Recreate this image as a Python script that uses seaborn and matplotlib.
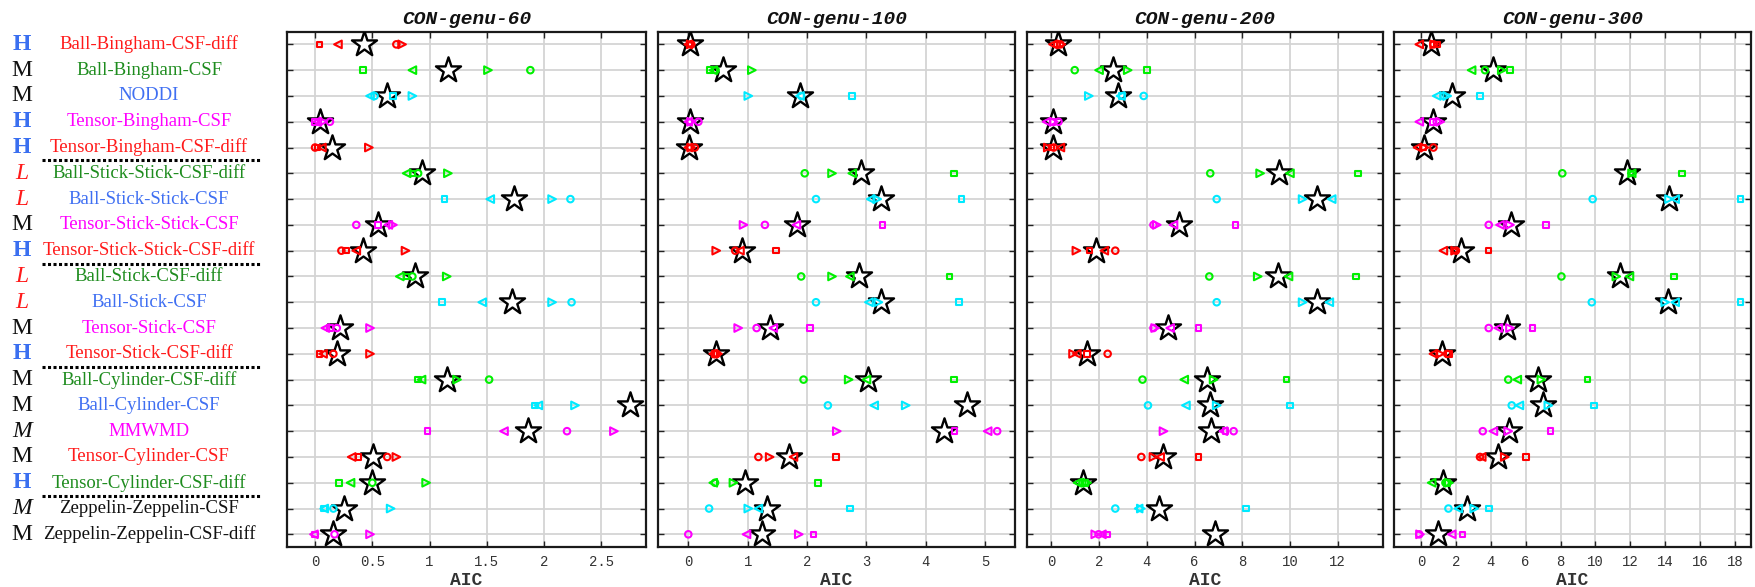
import numpy as np
import pandas as pd
import matplotlib
matplotlib.use("Agg")
import matplotlib.pyplot as plt
import matplotlib.transforms as mtransforms
import matplotlib.lines as mlines
import seaborn as sns

# ---------------- data ----------------
models = ["Ball-Bingham-CSF-diff", "Ball-Bingham-CSF", "NODDI", "Tensor-Bingham-CSF",
          "Tensor-Bingham-CSF-diff", "Ball-Stick-Stick-CSF-diff", "Ball-Stick-Stick-CSF",
          "Tensor-Stick-Stick-CSF", "Tensor-Stick-Stick-CSF-diff", "Ball-Stick-CSF-diff",
          "Ball-Stick-CSF", "Tensor-Stick-CSF", "Tensor-Stick-CSF-diff", "Ball-Cylinder-CSF-diff",
          "Ball-Cylinder-CSF", "MMWMD", "Tensor-Cylinder-CSF", "Tensor-Cylinder-CSF-diff",
          "Zeppelin-Zeppelin-CSF", "Zeppelin-Zeppelin-CSF-diff"]
ratings = ["H", "M", "M", "H", "H", "L", "L", "M", "H", "L",
           "L", "M", "H", "M", "M", "M", "M", "H", "M", "M"]
rating_italic_rows = [15, 18]
label_colors = ["red", "green", "blue", "magenta", "red", "green", "blue", "magenta", "red", "green",
                "blue", "magenta", "red", "green", "blue", "magenta", "red", "green", "black", "black"]
marker_colors = ["red", "green", "cyan", "magenta", "red", "green", "cyan", "magenta", "red", "green",
                 "cyan", "magenta", "red", "green", "cyan", "magenta", "red", "green", "cyan", "magenta"]
separators_after = [4, 8, 12, 17]

panels = ["CON-genu-60", "CON-genu-100", "CON-genu-200", "CON-genu-300"]

# AIC values: square, left triangle, circle, right triangle, star
sq_60 = [0.04, 0.42, 0.68, 0.00, 0.02, 0.85, 1.13, 0.55, 0.27, 0.80,
         1.11, 0.13, 0.04, 0.90, 1.92, 0.98, 0.38, 0.21, 0.08, 0.00]
lt_60 = [0.20, 0.85, 0.48, 0.02, 0.06, 0.80, 1.53, 0.64, 0.36, 0.74,
         1.46, 0.09, 0.07, 0.93, 1.95, 1.65, 0.32, 0.31, 0.08, -0.01]
ci_60 = [0.71, 1.88, 0.52, 0.13, 0.00, 0.90, 2.23, 0.36, 0.23, 0.85,
         2.24, 0.19, 0.16, 1.52, 4.86, 2.20, 0.63, 0.50, 0.16, 0.17]
rt_60 = [0.76, 1.51, 0.85, 0.07, 0.47, 1.16, 2.07, 0.68, 0.79, 1.15,
         2.07, 0.48, 0.48, 1.24, 2.27, 2.61, 0.71, 0.97, 0.66, 0.48]
st_60 = [0.43, 1.16, 0.63, 0.04, 0.15, 0.93, 1.74, 0.55, 0.42, 0.87,
         1.72, 0.22, 0.19, 1.15, 2.75, 1.86, 0.51, 0.50, 0.25, 0.16]

sq_100 = [0.02, 0.37, 2.76, 0.02, 0.02, 4.47, 4.60, 3.27, 1.48, 4.40,
          4.56, 2.05, 0.45, 4.47, 9.62, 4.48, 2.49, 2.18, 2.72, 2.11]
lt_100 = [0.00, 0.42, 1.88, 0.00, 0.00, 2.76, 3.07, 1.82, 0.87, 2.72,
          3.04, 1.43, 0.42, 3.00, 3.13, 5.04, 1.77, 0.42, 1.18, 0.98]
ci_100 = [0.05, 0.46, 1.90, 0.17, 0.11, 1.96, 2.15, 1.29, 0.79, 1.90,
          2.15, 1.15, 0.48, 1.94, 2.35, 5.20, 1.18, 0.45, 0.35, 0.00]
rt_100 = [0.04, 1.07, 1.01, 0.05, 0.05, 2.42, 3.18, 0.93, 0.47, 2.42,
          3.20, 0.84, 0.50, 2.70, 3.66, 2.50, 1.37, 0.76, 1.01, 1.86]
st_100 = [0.03, 0.58, 1.88, 0.03, 0.02, 2.90, 3.25, 1.83, 0.90, 2.87,
          3.25, 1.37, 0.46, 3.02, 4.69, 4.31, 1.69, 0.96, 1.33, 1.24]

sq_200 = [0.24, 4.00, 2.95, 0.05, 0.00, 12.85, 15.40, 7.72, 1.60, 12.77,
          15.40, 6.17, 1.49, 9.86, 10.00, 7.30, 6.17, 1.40, 8.16, 2.33]
lt_200 = [0.07, 2.00, 2.90, -0.20, 0.38, 10.00, 11.75, 5.12, 2.22, 9.94,
          11.65, 4.98, 1.07, 5.57, 5.64, 7.21, 4.56, 1.10, 3.66, 2.12]
ci_200 = [0.38, 0.98, 3.87, 0.30, 0.10, 6.66, 6.93, 4.28, 2.68, 6.62,
          6.93, 4.28, 2.36, 3.82, 4.05, 7.64, 3.77, 1.30, 2.68, 1.98]
rt_200 = [0.42, 3.20, 1.57, 0.10, -0.15, 8.75, 10.53, 4.42, 1.05, 8.65,
          10.53, 4.35, 0.91, 6.80, 6.93, 4.70, 4.28, 1.50, 3.75, 1.84]
st_200 = [0.28, 2.58, 2.80, 0.05, 0.05, 9.56, 11.15, 5.37, 1.87, 9.52,
          11.15, 4.91, 1.49, 6.52, 6.66, 6.68, 4.66, 1.31, 4.53, 6.86]

sq_300 = [0.90, 5.10, 3.38, 0.70, 0.10, 14.95, 18.33, 7.15, 3.88, 14.50,
          18.33, 6.40, 1.60, 9.54, 9.92, 7.43, 6.02, 1.50, 3.90, 2.37]
lt_300 = [-0.10, 2.90, 0.90, -0.10, -0.20, 12.08, 14.57, 4.53, 1.28, 11.95,
          14.57, 4.43, 0.71, 5.52, 5.64, 4.15, 3.48, 0.61, 2.14, 1.76]
ci_300 = [0.71, 3.67, 1.28, 0.90, 0.71, 8.10, 9.84, 3.88, 2.00, 8.05,
          9.79, 3.88, 1.50, 5.00, 5.20, 3.54, 3.38, 1.40, 1.57, -0.10]
rt_300 = [0.75, 4.63, 1.50, 1.10, 0.20, 12.10, 14.22, 5.10, 1.95, 11.20,
          14.00, 5.10, 1.10, 6.90, 7.30, 5.00, 4.80, 1.60, 3.05, -0.06]
st_300 = [0.57, 4.11, 1.76, 0.66, 0.19, 11.80, 14.24, 5.16, 2.29, 11.41,
          14.18, 4.95, 1.22, 6.73, 7.02, 5.05, 4.43, 1.28, 2.66, 0.99]

ticks_60 = [0, 0.5, 1, 1.5, 2, 2.5]
ticks_100 = [0, 1, 2, 3, 4, 5]
ticks_200 = [0, 2, 4, 6, 8, 10, 12]
ticks_300 = [0, 2, 4, 6, 8, 10, 12, 14, 16, 18]
xlims = [(-0.245, 2.89), (-0.51, 5.50), (-1.02, 13.9), (-1.55, 18.92)]

# ---------------- style ----------------
sns.set_theme(style="white")
plt.rcParams["font.family"] = ["DejaVu Sans"]

label_palette = {"red": "#ff1a1a", "green": "#1e8c1e", "blue": "#3f6ff2",
                 "magenta": "#ff00ff", "black": "#111111"}
marker_palette = {"red": "#ff0000", "green": "#00f000", "cyan": "#00eaff", "magenta": "#ff00ff"}
rating_style = {"H": dict(color="#3a6ff0", fontweight="bold", fontstyle="normal"),
                "M": dict(color="#111111", fontweight="normal", fontstyle="normal"),
                "L": dict(color="#ff1a1a", fontweight="normal", fontstyle="italic")}

W, H = 1755, 587
fig = plt.figure(figsize=(W / 100, H / 100), dpi=100, facecolor="white")

panel_px = [(287, 646), (658, 1015), (1027, 1383), (1394, 1751)]
top_px, bot_px = 32, 546.7

all_data = [
    (sq_60, lt_60, ci_60, rt_60, st_60, ticks_60),
    (sq_100, lt_100, ci_100, rt_100, st_100, ticks_100),
    (sq_200, lt_200, ci_200, rt_200, st_200, ticks_200),
    (sq_300, lt_300, ci_300, rt_300, st_300, ticks_300),
]
marker_specs = [("s", 16), ("<", 30), ("o", 22), (">", 30)]

axes = []
rows = np.arange(len(models))
for p, (title, (sq, lt, ci, rt, st, ticks)) in enumerate(zip(panels, all_data)):
    l, r = panel_px[p]
    ax = fig.add_axes([l / W, (H - bot_px) / H, (r - l) / W, (bot_px - top_px) / H])
    axes.append(ax)
    ax.set_facecolor("white")

    # star (mean)
    dstar = pd.DataFrame({"aic": st, "row": rows})
    sns.scatterplot(data=dstar, x="aic", y="row", marker="*", s=360, color="white",
                    edgecolor="black", linewidth=1.7, ax=ax, legend=False, zorder=3)

    for vals, (m, s) in zip((sq, lt, ci, rt), marker_specs):
        df = pd.DataFrame({"aic": vals, "row": rows, "c": marker_colors})
        for cname, sub in df.groupby("c"):
            col = marker_palette[cname]
            sns.scatterplot(data=sub, x="aic", y="row", marker=m, s=s, color=col,
                            facecolors="none", edgecolor=col, linewidth=1.5,
                            ax=ax, legend=False, zorder=4)

    ax.set_xlim(*xlims[p])
    ax.set_ylim(len(models) - 1 + 0.48, -0.48)
    ax.set_xticks(ticks)
    ax.set_xticklabels([("%g" % t) for t in ticks], fontfamily="Liberation Mono",
                       fontsize=10, color="#333333")
    ax.set_yticks(rows)
    ax.set_yticklabels([])
    ax.grid(True, color="#d4d4d4", linewidth=1.3, zorder=0)
    ax.set_axisbelow(True)
    ax.tick_params(axis="both", direction="in", length=4, width=1.0, color="#222222",
                   top=True, right=True, left=True, bottom=True, pad=6)
    for sp in ax.spines.values():
        sp.set_visible(True)
        sp.set_color("#1a1a1a")
        sp.set_linewidth(1.6)
    ax.set_xlabel("AIC", fontfamily="Liberation Mono", fontweight="bold", fontsize=13,
                  color="#333333", labelpad=2)
    ax.set_ylabel("")
    ax.set_title(title, fontfamily="Liberation Mono", fontweight="bold", fontstyle="italic",
                 fontsize=14, color="#111111", pad=6)

# ---------------- left labels ----------------
trans = mtransforms.blended_transform_factory(fig.transFigure, axes[0].transData)
for i, (name, rat, lc) in enumerate(zip(models, ratings, label_colors)):
    fig.text(149 / W, i, name, transform=trans, ha="center", va="center",
             fontfamily="Liberation Serif", fontsize=13.5, color=label_palette[lc])
    st_kw = dict(rating_style[rat])
    if i in rating_italic_rows:
        st_kw["fontstyle"] = "italic"
    fig.text(22 / W, i, rat, transform=trans, ha="center", va="center",
             fontfamily="Liberation Serif", fontsize=17, **st_kw)

for k in separators_after:
    fig.add_artist(mlines.Line2D([42 / W, 260 / W], [k + 0.5, k + 0.5], transform=trans,
                                 color="black", linestyle=(0, (1, 0.8)), linewidth=2.2))

fig.savefig("out.png", dpi=100, facecolor="white")
